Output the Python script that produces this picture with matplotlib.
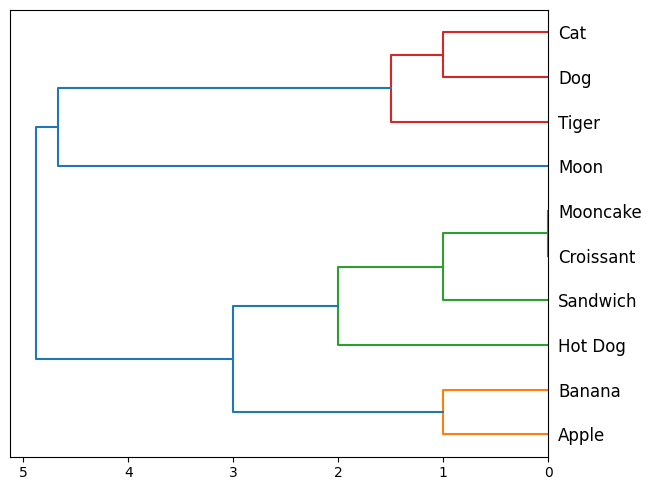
import matplotlib
matplotlib.use('Agg')
import matplotlib.pyplot as plt

# leaves listed bottom to top, as they appear on the chart
labels = ['Apple', 'Banana', 'Hot Dog', 'Sandwich', 'Croissant',
          'Mooncake', 'Moon', 'Tiger', 'Dog', 'Cat']

# linkage rows: (left node, right node, height); new nodes numbered from len(labels)
merge_left = [4, 0, 8, 3, 7, 2, 11, 6, 16]
merge_right = [5, 1, 9, 10, 12, 13, 15, 14, 17]
merge_height = [0.0, 1.0, 1.0, 1.0, 1.5, 2.0, 3.0, 4.67, 4.88]

# cluster colour for each leaf group, blue for links above the threshold
color_threshold = 3.0
cluster_colors = ['C1', 'C2', 'C3']
above_color = 'C0'


def leaf_sets():
    n = len(labels)
    sets = {i: [i] for i in range(n)}
    for k, (a, b) in enumerate(zip(merge_left, merge_right)):
        sets[n + k] = sets[a] + sets[b]
    return sets


def main():
    n = len(labels)
    pos = {i: 5 + 10 * i for i in range(n)}
    height = {i: 0.0 for i in range(n)}
    sets = leaf_sets()

    # assign colours to clusters below threshold, in leaf order
    node_color = {}
    cluster_roots = []
    for k in range(len(merge_height)):
        node = n + k
        if merge_height[k] < color_threshold:
            parent_ok = True
            for j in range(k + 1, len(merge_height)):
                if set(sets[node]) <= set(sets[n + j]):
                    if merge_height[j] < color_threshold:
                        parent_ok = False
                    break
            if parent_ok:
                cluster_roots.append(node)
    cluster_roots.sort(key=lambda r: min(sets[r]))
    for c, root in enumerate(cluster_roots):
        for j in range(len(merge_height)):
            if set(sets[n + j]) <= set(sets[root]):
                node_color[n + j] = cluster_colors[c % len(cluster_colors)]

    fig, ax = plt.subplots(figsize=(6.51, 4.91), dpi=100)
    for k, (a, b, h) in enumerate(zip(merge_left, merge_right, merge_height)):
        node = n + k
        color = node_color.get(node, above_color)
        ya, yb = pos[a], pos[b]
        ax.plot([height[a], h, h, height[b]], [ya, ya, yb, yb],
                color=color, linewidth=1.5)
        pos[node] = (ya + yb) / 2
        height[node] = h

    ax.set_xlim(max(merge_height) * 1.05, 0)
    ax.set_ylim(0, 10 * n)
    ax.yaxis.set_ticks_position('right')
    ax.set_yticks([5 + 10 * i for i in range(n)])
    ax.set_yticklabels(labels, fontsize=12)
    for line in ax.get_yticklines():
        line.set_visible(False)
    ax.set_xticks([5, 4, 3, 2, 1, 0])

    fig.subplots_adjust(left=0.0158, right=0.8422, top=0.980, bottom=0.0699)
    plt.savefig('out.png', dpi=100)


if __name__ == '__main__':
    main()
